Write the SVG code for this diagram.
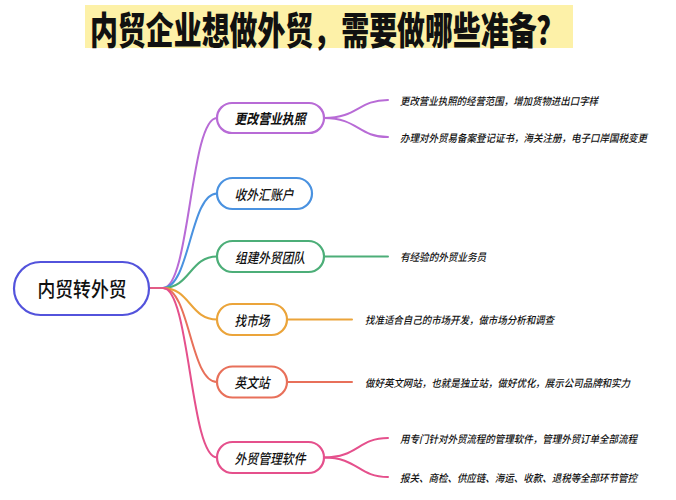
<svg xmlns="http://www.w3.org/2000/svg" width="676" height="500" viewBox="0 0 676 500">
<style>
  text { font-family: "Noto Sans CJK SC", "Noto Sans", sans-serif; fill: #111; }
  .title { font-size: 38px; font-weight: 900; }
  .root { font-size: 20px; font-weight: 500; }
  .lbl { font-size: 14px; font-weight: 500; font-style: italic; }
  .lbl.b { font-weight: 700; }
  .sub { font-size: 10.5px; font-weight: 500; font-style: italic; }
  .node { fill: #fff; stroke-width: 2.2; }
  .conn path { fill: none; stroke-width: 2; stroke-linecap: round; }
</style>
<rect width="676" height="500" fill="#fff"/>
<g id="title">
  <rect x="85" y="5" width="488" height="43" fill="#fdf1a8"/>
  <text class="title" transform="translate(90,27) scale(0.735,1)" x="0" y="0" dominant-baseline="central">内贸企业想做外贸，需要做哪些准备？</text>
</g>
<g id="connectors" class="conn">
  <path d="M149,288 L163,288" stroke="#e25c86"/>
  <path d="M163,288 C190,288 190,118 217,118" stroke="#b86bd6"/>
  <path d="M163,288 C190,288 190,193.5 217,193.5" stroke="#4a92e0"/>
  <path d="M163,288 C190,288 190,256.5 217,256.5" stroke="#4cae78"/>
  <path d="M163,288 C190,288 190,319.5 217,319.5" stroke="#eba43a"/>
  <path d="M163,288 C190,288 190,382 217,382" stroke="#e8705a"/>
  <path d="M163,288 C190,288 190,457.5 217,457.5" stroke="#e5508c"/>
  <path d="M324,118 C358,118 358,100 388,100" stroke="#b86bd6"/>
  <path d="M324,118 C358,118 358,137 388,137" stroke="#b86bd6"/>
  <path d="M324,256.5 L388,256.5" stroke="#4cae78"/>
  <path d="M287,319.5 L352,319.5" stroke="#eba43a"/>
  <path d="M287,382 L352,382" stroke="#e8705a"/>
  <path d="M324,457.5 C358,457.5 358,438 388,438" stroke="#e5508c"/>
  <path d="M324,457.5 C358,457.5 358,477 388,477" stroke="#e5508c"/>
</g>
<g id="root">
  <rect class="node" x="14" y="262" width="135" height="53" rx="26.5" stroke="#5353dc"/>
  <text class="root" x="82" y="288.5" text-anchor="middle" dominant-baseline="central" textLength="89" lengthAdjust="spacingAndGlyphs">内贸转外贸</text>
</g>
<g id="n1">
  <rect class="node" x="217" y="103" width="107" height="30" rx="15" stroke="#b86bd6"/>
  <text class="lbl b" x="270" y="118" text-anchor="middle" dominant-baseline="central" textLength="71" lengthAdjust="spacingAndGlyphs">更改营业执照</text>
</g>
<g id="n2">
  <rect class="node" x="217" y="178" width="95" height="31" rx="15.5" stroke="#4a92e0"/>
  <text class="lbl" x="264" y="193.5" text-anchor="middle" dominant-baseline="central" textLength="59" lengthAdjust="spacingAndGlyphs">收外汇账户</text>
</g>
<g id="n3">
  <rect class="node" x="217" y="241" width="107" height="31" rx="15.5" stroke="#4cae78"/>
  <text class="lbl" x="270" y="256.5" text-anchor="middle" dominant-baseline="central" textLength="70" lengthAdjust="spacingAndGlyphs">组建外贸团队</text>
</g>
<g id="n4">
  <rect class="node" x="217" y="304" width="70" height="31" rx="15.5" stroke="#eba43a"/>
  <text class="lbl" x="252" y="319.5" text-anchor="middle" dominant-baseline="central" textLength="35" lengthAdjust="spacingAndGlyphs">找市场</text>
</g>
<g id="n5">
  <rect class="node" x="217" y="366.5" width="70" height="31" rx="15.5" stroke="#e8705a"/>
  <text class="lbl" x="252" y="382" text-anchor="middle" dominant-baseline="central" textLength="35" lengthAdjust="spacingAndGlyphs">英文站</text>
</g>
<g id="n6">
  <rect class="node" x="217" y="442" width="107" height="31" rx="15.5" stroke="#e5508c"/>
  <text class="lbl" x="270" y="457.5" text-anchor="middle" dominant-baseline="central" textLength="71" lengthAdjust="spacingAndGlyphs">外贸管理软件</text>
</g>
<g id="leaves">
  <text class="sub" x="400" y="100" dominant-baseline="central" textLength="198" lengthAdjust="spacingAndGlyphs">更改营业执照的经营范围，增加货物进出口字样</text>
  <text class="sub" x="400" y="137" dominant-baseline="central" textLength="247" lengthAdjust="spacingAndGlyphs">办理对外贸易备案登记证书，海关注册，电子口岸国税变更</text>
  <text class="sub" x="400" y="256.5" dominant-baseline="central" textLength="86" lengthAdjust="spacingAndGlyphs">有经验的外贸业务员</text>
  <text class="sub" x="365" y="319.5" dominant-baseline="central" textLength="189" lengthAdjust="spacingAndGlyphs">找准适合自己的市场开发，做市场分析和调查</text>
  <text class="sub" x="365" y="382" dominant-baseline="central" textLength="265" lengthAdjust="spacingAndGlyphs">做好英文网站，也就是独立站，做好优化，展示公司品牌和实力</text>
  <text class="sub" x="400" y="438" dominant-baseline="central" textLength="237" lengthAdjust="spacingAndGlyphs">用专门针对外贸流程的管理软件，管理外贸订单全部流程</text>
  <text class="sub" x="400" y="477" dominant-baseline="central" textLength="237" lengthAdjust="spacingAndGlyphs">报关、商检、供应链、海运、收款、退税等全部环节管控</text>
</g>
</svg>
